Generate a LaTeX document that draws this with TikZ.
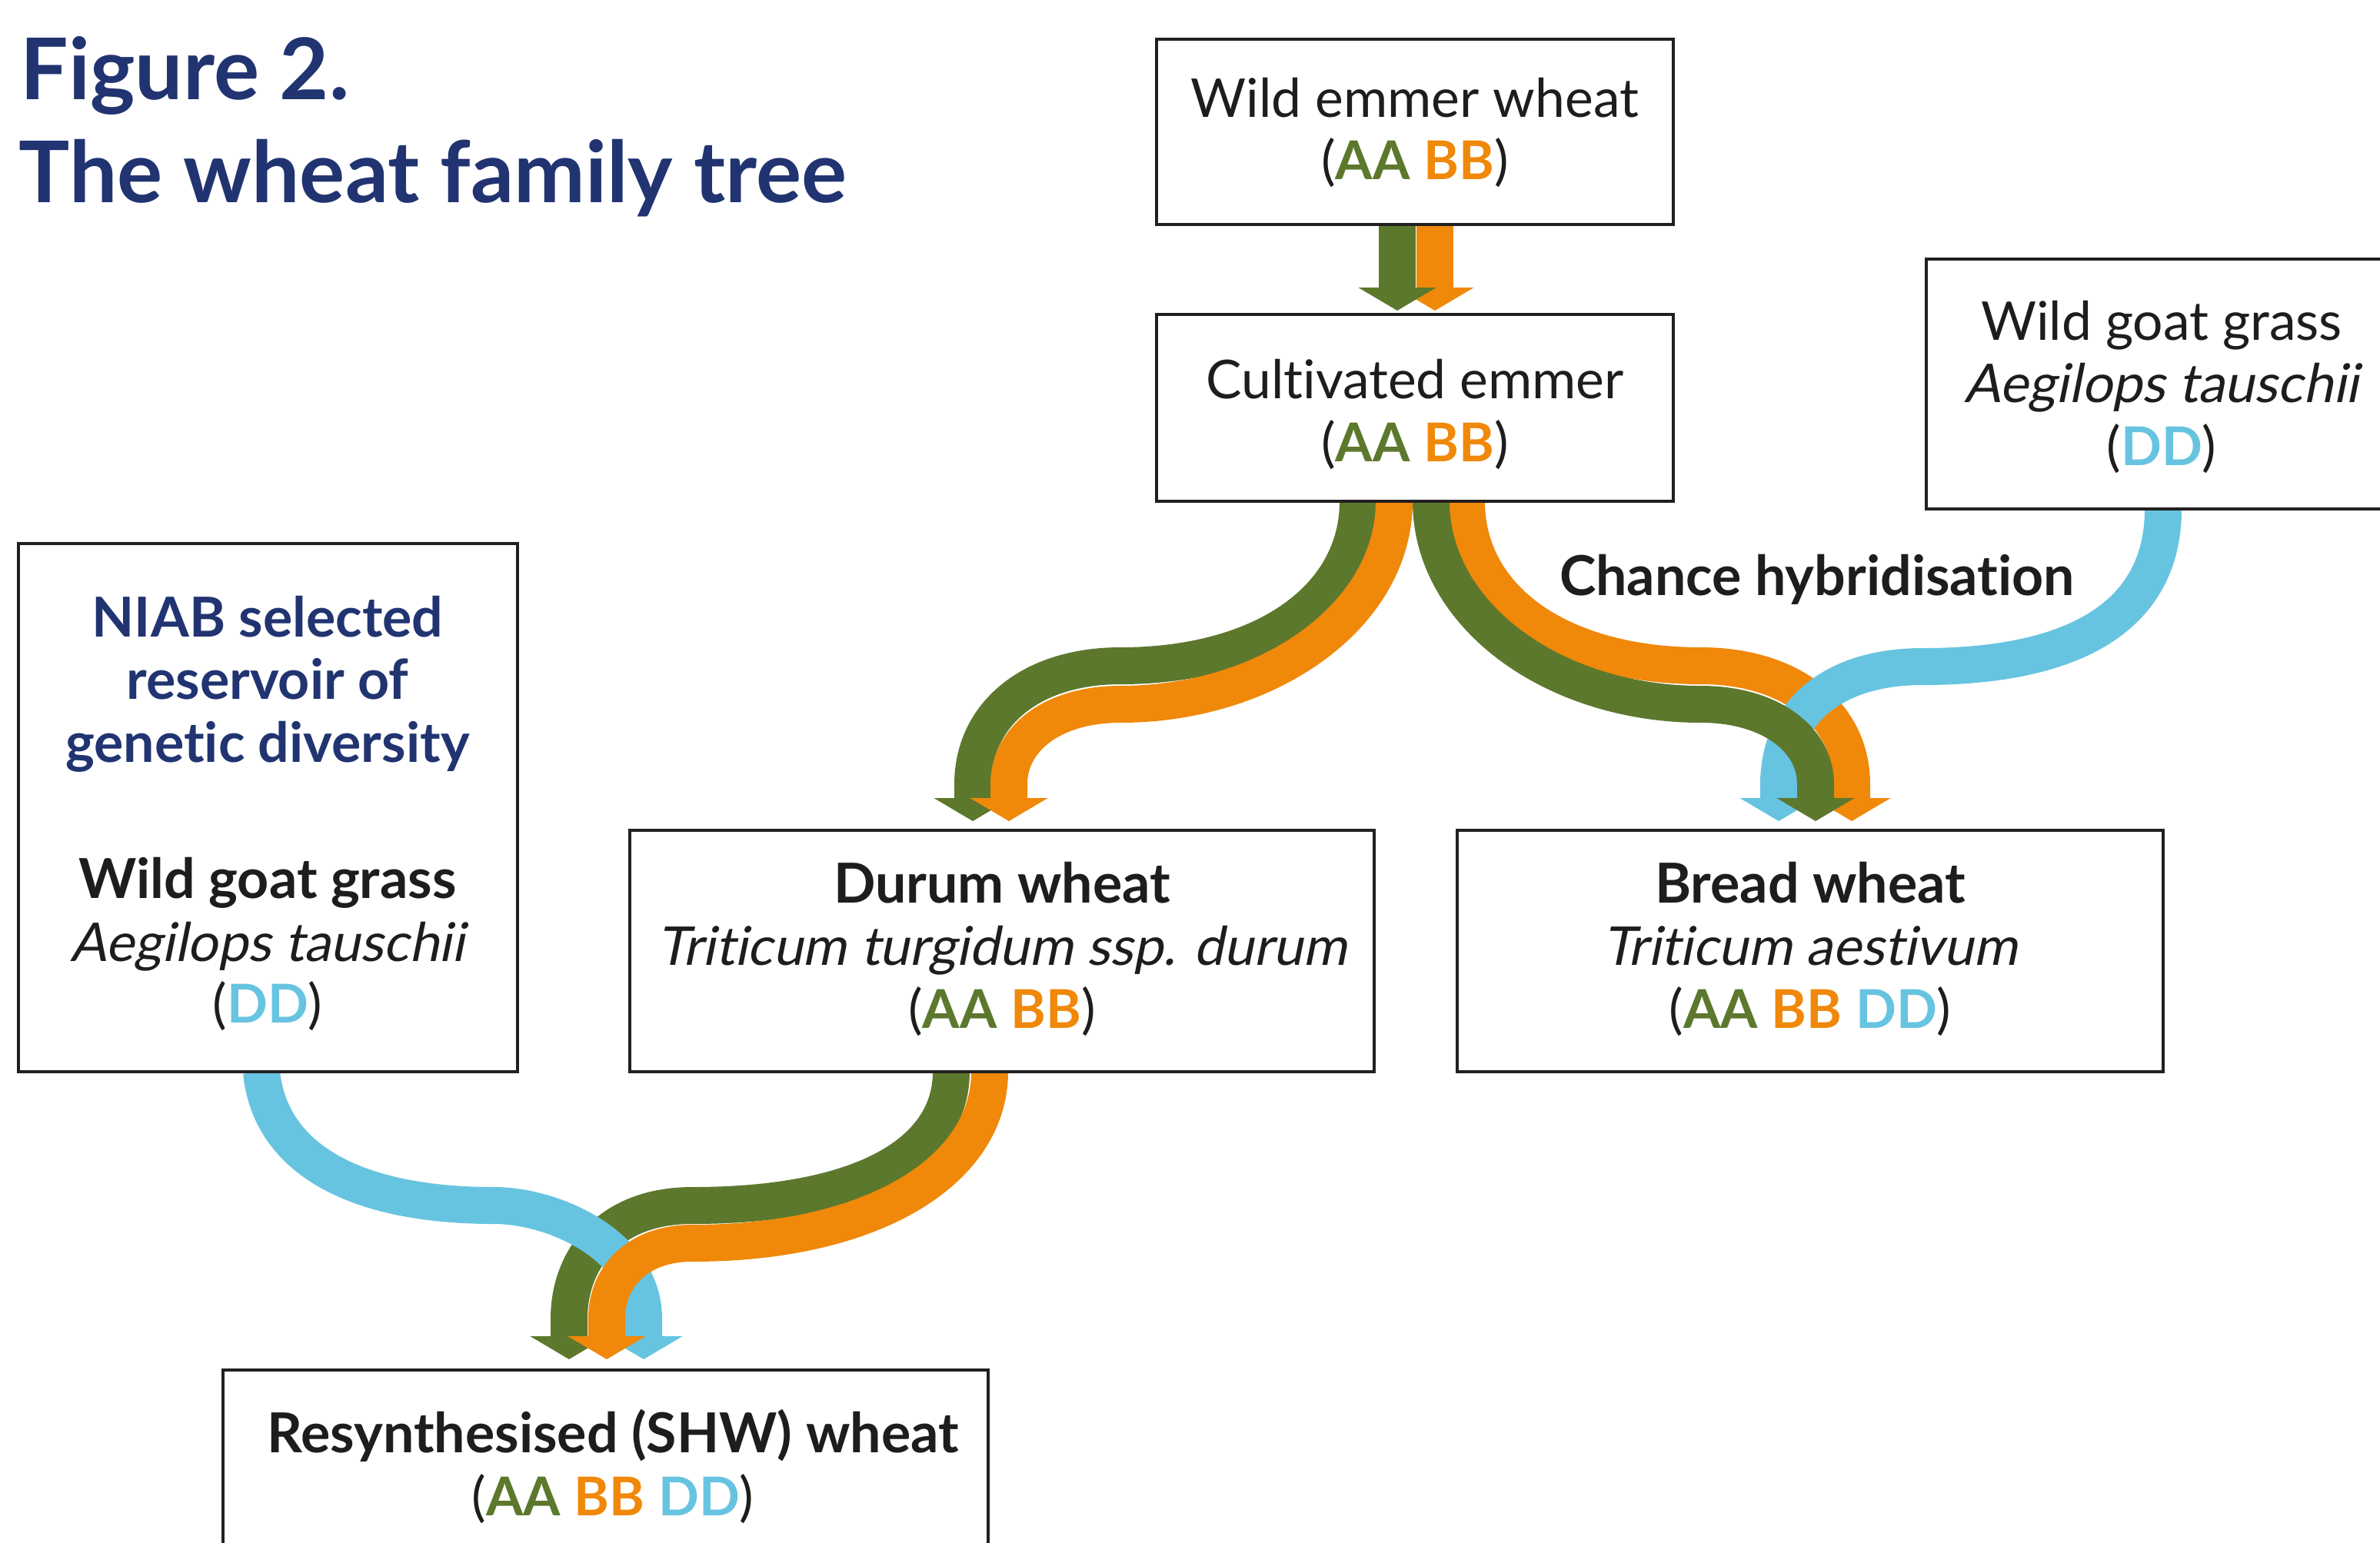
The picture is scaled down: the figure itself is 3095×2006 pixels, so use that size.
\documentclass[tikz,border=0pt]{standalone}
\usepackage{fontspec}
\setmainfont{Lato}[Ligatures=NoCommon]
\newfontfamily\oblq[FakeSlant=0.2,Ligatures=NoCommon]{Lato}
\usetikzlibrary{arrows.meta,calc}
\definecolor{gr}{RGB}{92,120,45}
\definecolor{og}{RGB}{240,136,10}
\definecolor{bl}{RGB}{103,196,224}
\definecolor{navy}{RGB}{33,52,113}
\definecolor{ink}{RGB}{29,29,27}
\definecolor{boxc}{RGB}{35,31,32}
\newcommand\gA{\textcolor{gr}{\bfseries AA}}
\newcommand\gB{\textcolor{og}{\bfseries BB}}
\newcommand\gD{\textcolor{bl}{\bfseries DD}}
\pgfdeclarelayer{ribbons}
\pgfsetlayers{ribbons,main}
\tikzset{
  box/.style={draw=boxc, line width=0.9pt, fill=white, inner sep=0pt, outer sep=0pt},
  ln/.style={anchor=base, inner sep=0pt, text=ink, font=\fontsize{19.8}{23}\selectfont},
  lnb/.style={ln, font=\fontsize{20.4}{23}\selectfont\bfseries},
  lni/.style={ln, font=\fontsize{19.8}{23}\selectfont\oblq},
  lnn/.style={lnb, text=navy},
  ttl/.style={anchor=base west, inner sep=0pt, text=navy, font=\fontsize{31.5}{36}\selectfont\bfseries},
  rib/.style={line width=4.8mm, line cap=butt, -{Triangle[width=10mm,length=3mm]}},
}
\begin{document}
\begin{tikzpicture}[x=0.1mm,y=-0.1mm]
\useasboundingbox (0,0) rectangle (3095,2006);

% title
\node[ttl] (t1) at (26,129) {Figure 2.};
\node[ttl] (t2) at (24,263) {The wheat family tree};

% boxes
\node[box, minimum width=67.2mm, minimum height=24.1mm] (wem) at (1840,171.5) {};
\node[box, minimum width=67.2mm, minimum height=24.3mm] (cult) at (1840,530.5) {};
\node[box, minimum width=61.2mm, minimum height=32.5mm] (wgg) at (2811,499.5) {};
\node[box, minimum width=64.9mm, minimum height=68.7mm] (niab) at (348.5,1050.5) {};
\node[box, minimum width=96.8mm, minimum height=31.4mm] (durum) at (1303,1237) {};
\node[box, minimum width=91.8mm, minimum height=31.4mm] (bread) at (2354,1237) {};
\node[box, minimum width=99.5mm, minimum height=30mm] (shw) at (787.5,1932) {};

% texts
\node[ln] (wem1) at (1840,152) {Wild emmer wheat};
\node[ln] (wem2) at (1840,233) {(\gA\ \gB)};
\node[ln] (cul1) at (1840,518) {Cultivated emmer};
\node[ln] (cul2) at (1840,600) {(\gA\ \gB)};
\node[ln] (wgg1) at (2811,442) {Wild goat grass};
\node[lni] (wgg2) at (2811,523) {Aegilops tauschii};
\node[ln] (wgg3) at (2811,605) {(\gD)};
\node[lnn] (nia1) at (348,828) {NIAB selected};
\node[lnn] (nia2) at (348,909) {reservoir of};
\node[lnn] (nia3) at (348,991) {genetic diversity};
\node[lnb] (nia4) at (348,1168) {Wild goat grass};
\node[lni] (nia5) at (348,1250) {Aegilops tauschii};
\node[ln] (nia6) at (348,1330) {(\gD)};
\node[lnb] (dur1) at (1303,1174) {Durum wheat};
\node[lni] (dur2) at (1303,1255) {Triticum turgidum ssp. durum};
\node[ln] (dur3) at (1303,1337) {(\gA\ \gB)};
\node[lnb] (brd1) at (2354,1174) {Bread wheat};
\node[lni] (brd2) at (2354,1255) {Triticum aestivum};
\node[ln] (brd3) at (2354,1337) {(\gA\ \gB\ \gD)};
\node[lnb] (shw1) at (797,1889) {Resynthesised (SHW) wheat};
\node[ln] (shw2) at (797,1971) {(\gA\ \gB\ \gD)};
\node[lnb] (chance) at (2363,774) {Chance hybridisation};

% ribbons
\begin{pgfonlayer}{ribbons}
% wild emmer -> cultivated
\draw[rib, og] ($(wem.south)+(26,0)$) -- ($(cult.north)+(26,-5)$);
\draw[rib, gr] ($(wem.south)+(-23,0)$) -- ($(cult.north)+(-23,-5)$);

% cultivated -> durum
\coordinate (gL0) at ($(cult.south)+(-74,0)$);
\coordinate (gL1) at (1457,866);
\coordinate (gL2) at ($(durum.north)+(-38,-60)$);
\coordinate (gL3) at ($(durum.north)+(-38,-12)$);
\coordinate (oL0) at ($(cult.south)+(-27,0)$);
\coordinate (oL1) at (1457,916);
\coordinate (oL2) at ($(durum.north)+(9,-60)$);
\coordinate (oL3) at ($(durum.north)+(9,-12)$);
\draw[rib, gr] (gL0) .. controls ($(gL0)+(0,128)$) and ($(gL1)+(183,0)$) .. (gL1)
   .. controls ($(gL1)+(-117,0)$) and ($(gL2)+(0,-90)$) .. (gL2) -- (gL3);
\draw[rib, og] (oL0) .. controls ($(oL0)+(0,148)$) and ($(oL1)+(193,0)$) .. (oL1)
   .. controls ($(oL1)+(-87,0)$) and ($(oL2)+(0,-60)$) .. (oL2) -- (oL3);

% cultivated + wild goat grass -> bread
\coordinate (oR0) at ($(cult.south)+(67,0)$);
\coordinate (oR1) at (2212,866);
\coordinate (oR2) at ($(bread.north)+(54,-60)$);
\coordinate (oR3) at ($(bread.north)+(54,-12)$);
\coordinate (gR0) at ($(cult.south)+(21,0)$);
\coordinate (gR1) at (2212,916);
\coordinate (gR2) at ($(bread.north)+(7,-60)$);
\coordinate (gR3) at ($(bread.north)+(7,-12)$);
\coordinate (bR0) at ($(wgg.south)+(2,0)$);
\coordinate (bR1) at (2500,867);
\coordinate (bR2) at ($(bread.north)+(-41,-60)$);
\coordinate (bR3) at ($(bread.north)+(-41,-12)$);
\draw[rib, og] (oR0) .. controls ($(oR0)+(0,128)$) and ($(oR1)+(-182,0)$) .. (oR1)
   .. controls ($(oR1)+(118,0)$) and ($(oR2)+(0,-90)$) .. (oR2) -- (oR3);
\draw[rib, bl] (bR0) .. controls ($(bR0)+(0,138)$) and ($(bR1)+(200,0)$) .. (bR1)
   .. controls ($(bR1)+(-120,0)$) and ($(bR2)+(0,-90)$) .. (bR2) -- (bR3);
\draw[rib, gr] (gR0) .. controls ($(gR0)+(0,148)$) and ($(gR1)+(-192,0)$) .. (gR1)
   .. controls ($(gR1)+(88,0)$) and ($(gR2)+(0,-60)$) .. (gR2) -- (gR3);

% durum + NIAB -> SHW
\coordinate (gS0) at ($(durum.south)+(-66,0)$);
\coordinate (gS1) at (900,1568);
\coordinate (gS2) at ($(shw.north)+(-47.5,-67)$);
\coordinate (gS3) at ($(shw.north)+(-47.5,-14)$);
\coordinate (oS0) at ($(durum.south)+(-16,0)$);
\coordinate (oS1) at (900,1617);
\coordinate (oS2) at ($(shw.north)+(1.5,-67)$);
\coordinate (oS3) at ($(shw.north)+(1.5,-14)$);
\coordinate (bS0) at ($(niab.south)+(-8.5,0)$);
\coordinate (bS1) at (643,1568);
\coordinate (bS2) at ($(shw.north)+(49.5,-67)$);
\coordinate (bS3) at ($(shw.north)+(49.5,-14)$);
\draw[rib, gr] (gS0) .. controls ($(gS0)+(0,106)$) and ($(gS1)+(220,0)$) .. (gS1)
   .. controls ($(gS1)+(-110,0)$) and ($(gS2)+(0,-75)$) .. (gS2) -- (gS3);
\draw[rib, bl] (bS0) .. controls ($(bS0)+(10,106)$) and ($(bS1)+(-193,0)$) .. (bS1)
   .. controls ($(bS1)+(77,0)$) and ($(bS2)+(0,-95)$) .. (bS2) -- (bS3);
\draw[rib, og] (oS0) .. controls ($(oS0)+(0,126)$) and ($(oS1)+(240,0)$) .. (oS1)
   .. controls ($(oS1)+(-70,0)$) and ($(oS2)+(0,-55)$) .. (oS2) -- (oS3);
\end{pgfonlayer}
\end{tikzpicture}
\end{document}
